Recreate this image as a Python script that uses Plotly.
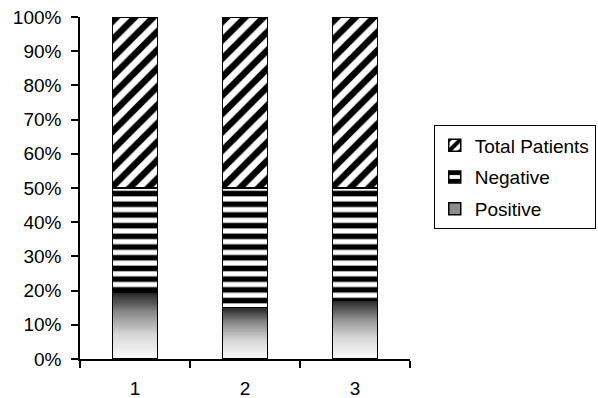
import numpy as np
import plotly.graph_objects as go

# Percent of each group, stacked to 100%
groups = [1, 2, 3]
positive = [19.4, 15.1, 17.3]
negative = [30.6, 34.9, 32.7]
total_patients = [50.0, 50.0, 50.0]

BAR_W = 0.41
FONT = dict(family="Arial, Liberation Sans, sans-serif", size=19, color="black")
OUTLINE = dict(color="black", width=1.5)

fig = go.Figure()

# Shaded fill for the Positive segments: dark at the top, fading to white at the base
grad_scale = [[0.0, "#fbfbfb"], [0.35, "#d8d8d8"], [0.7, "#8a8a8a"], [1.0, "#262626"]]
n_steps = 60
for g, p in zip(groups, positive):
    y_edges = np.linspace(0, p, n_steps + 1)
    shade = np.linspace(0, 1, n_steps).reshape(-1, 1)
    fig.add_trace(go.Heatmap(
        x=[g - BAR_W / 2, g + BAR_W / 2], y=y_edges, z=shade,
        colorscale=grad_scale, zmin=0, zmax=1, showscale=False,
        hoverinfo="skip", showlegend=False,
    ))

# Legend swatch for Positive
fig.add_trace(go.Bar(
    x=[None], y=[None], name="Positive", legendgroup="pos", legendrank=3,
    marker=dict(color="#8c8c8c", line=OUTLINE),
))

fig.add_trace(go.Bar(
    x=groups, y=positive, name="Positive", width=BAR_W, showlegend=False,
    legendgroup="pos", legendrank=3,
    marker=dict(color="rgba(0,0,0,0)", line=OUTLINE),
))
fig.add_trace(go.Bar(
    x=groups, y=negative, name="Negative", width=BAR_W, legendgroup="neg",
    legendrank=2,
    marker=dict(color="white", line=OUTLINE,
                pattern=dict(shape="-", fillmode="overlay", fgcolor="black",
                             fgopacity=1, size=10.7, solidity=0.52)),
))
fig.add_trace(go.Bar(
    x=groups, y=total_patients, name="Total Patients", width=BAR_W,
    legendgroup="tot", legendrank=1,
    marker=dict(color="white", line=OUTLINE,
                pattern=dict(shape="/", fillmode="overlay", fgcolor="black",
                             fgopacity=1, size=13, solidity=0.5)),
))

fig.update_layout(
    barmode="stack",
    width=598, height=398,
    margin=dict(l=80, r=188, t=17, b=39, autoexpand=False),
    paper_bgcolor="white", plot_bgcolor="white",
    font=FONT,
    showlegend=True,
    legend=dict(
        traceorder="grouped", tracegroupgap=4,
        x=1.072, y=0.683, xanchor="left", yanchor="top",
        bordercolor="black", borderwidth=1, bgcolor="white",
        font=FONT, itemwidth=30,
    ),
    xaxis=dict(
        range=[0.5, 3.5], tickvals=groups, ticktext=[str(g) for g in groups],
        ticks="", showgrid=False, zeroline=False, automargin=False,
        showline=True, linecolor="black", linewidth=1.5,
        ticklabelstandoff=11,
        minor=dict(tickvals=[0.5, 1.5, 2.5, 3.5], ticks="outside",
                   ticklen=7, tickcolor="black", tickwidth=1.5),
    ),
    yaxis=dict(
        range=[0, 100], dtick=10, ticksuffix="%", automargin=False,
        ticks="outside", ticklen=7, tickcolor="black", tickwidth=1.5,
        showgrid=False, zeroline=False,
        showline=True, linecolor="black", linewidth=1.5,
        ticklabelstandoff=6,
    ),
)

fig.write_html("out.html")
